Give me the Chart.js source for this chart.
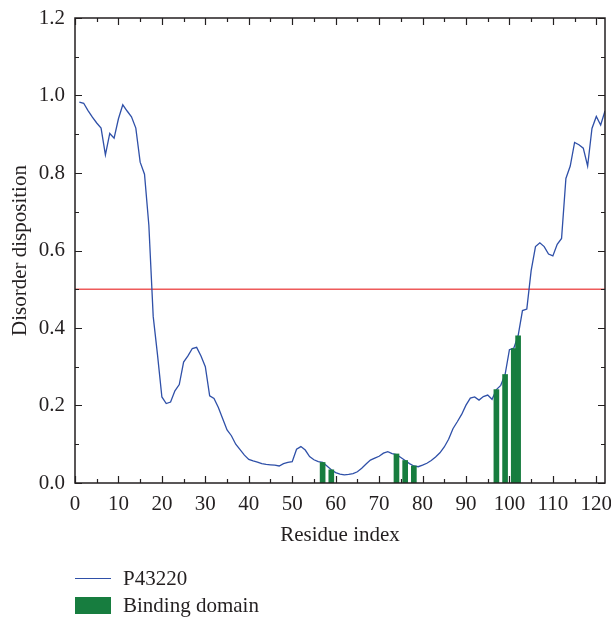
<!DOCTYPE html>
<html><head><meta charset="utf-8">
<script src="https://cdn.jsdelivr.net/npm/chart.js@4/dist/chart.umd.min.js"></script>
<style>
html,body{margin:0;padding:0;background:#fff;}
#wrap{position:relative;width:611px;height:617px;}
#legend{position:absolute;left:75px;top:565px;font-family:"Liberation Serif",serif;font-size:21px;color:#231f20;}
.item{display:flex;align-items:center;height:27px;}
.sw{display:inline-block;width:36px;margin-right:12px;}
</style></head><body>
<div id="wrap"><canvas id="c" width="611" height="617"></canvas>
<div id="legend">
 <div class="item"><span class="sw" style="height:0;border-top:1.5px solid #2f50a8"></span>P43220</div>
 <div class="item"><span class="sw" style="height:17px;background:#177d3f"></span>Binding domain</div>
</div></div>
<script>
// ---- data ----
const startResidue = 1;
const disorder = [
 0.983,0.980,0.961,0.944,0.929,0.916,0.847,0.902,0.890,0.940,
 0.976,0.960,0.945,0.916,0.828,0.797,0.665,0.430,0.330,0.222,
 0.205,0.209,0.238,0.254,0.312,0.328,0.347,0.350,0.328,0.300,
 0.225,0.218,0.195,0.166,0.137,0.122,0.100,0.086,0.072,0.061,
 0.057,0.054,0.050,0.048,0.047,0.046,0.044,0.050,0.053,0.055,
 0.087,0.094,0.085,0.068,0.060,0.055,0.053,0.044,0.034,0.027,
 0.023,0.021,0.022,0.024,0.029,0.038,0.049,0.059,0.064,0.069,
 0.077,0.081,0.076,0.073,0.066,0.058,0.050,0.044,0.042,0.046,
 0.051,0.058,0.067,0.078,0.093,0.113,0.140,0.158,0.177,0.201,
 0.219,0.222,0.214,0.223,0.227,0.216,0.241,0.252,0.280,0.344,
 0.348,0.380,0.445,0.449,0.548,0.610,0.620,0.610,0.591,0.586,
 0.616,0.631,0.786,0.818,0.879,0.873,0.864,0.818,0.915,0.946,
 0.924,0.960
];
const bindingResidues = [57, 59, 74, 76, 78, 97, 99, 101, 102];
const bindingValues   = [0.053, 0.034, 0.075, 0.058, 0.044, 0.241, 0.280, 0.347, 0.380];
const threshold = 0.5;
const xTickLabels = [0,10,20,30,40,50,60,70,80,90,100,110,120];
const yTickLabels = ['0.0','0.2','0.4','0.6','0.8','1.0','1.2'];

const FONT = '"Liberation Serif", "Times New Roman", serif';
const INK = '#231f20';

const lineData = disorder.map((v, i) => ({x: startResidue + i, y: v}));
const barData = bindingResidues.map((r, i) => ({x: r, y: bindingValues[i]}));

const framePlugin = {
  id: 'frame',
  beforeDatasetsDraw(chart) {
    const {ctx, chartArea: a, scales: {y}} = chart;
    const py = y.getPixelForValue(threshold);
    ctx.save();
    ctx.strokeStyle = '#ee5a5a';
    ctx.lineWidth = 1.3;
    ctx.beginPath(); ctx.moveTo(a.left, py); ctx.lineTo(a.right, py); ctx.stroke();
    ctx.restore();
  },
  afterDatasetsDraw(chart) {
    const {ctx, chartArea: a, scales: {x, y}} = chart;
    ctx.save();
    ctx.strokeStyle = INK;
    ctx.lineWidth = 1.5;
    ctx.strokeRect(a.left, a.top, a.right - a.left, a.bottom - a.top);
    ctx.lineWidth = 1.2;
    ctx.beginPath();
    for (let v = 0; v <= 120; v += 5) {
      const px = Math.round(x.getPixelForValue(v)) + 0.5;
      const len = v % 10 === 0 ? 7 : 4;
      ctx.moveTo(px, a.bottom); ctx.lineTo(px, a.bottom - len);
      ctx.moveTo(px, a.top); ctx.lineTo(px, a.top + len);
    }
    for (let k = 0; k <= 12; k++) {
      const py = Math.round(y.getPixelForValue(k / 10)) + 0.5;
      const len = k % 2 === 0 ? 7 : 4;
      ctx.moveTo(a.left, py); ctx.lineTo(a.left + len, py);
      ctx.moveTo(a.right, py); ctx.lineTo(a.right - len, py);
    }
    ctx.stroke();
    ctx.restore();
  }
};

new Chart(document.getElementById('c'), {
  type: 'line',
  data: {
    datasets: [
      {type: 'bar', label: 'Binding domain', data: barData, backgroundColor: '#177d3f',
       borderWidth: 0, barThickness: 5, order: 0},
      {type: 'line', label: 'P43220', data: lineData, borderColor: '#2f50a8',
       borderWidth: 1.3, pointRadius: 0, tension: 0, fill: false, order: 1}
    ]
  },
  options: {
    responsive: false, animation: false, devicePixelRatio: 1,
    layout: {padding: {left: 0, top: 18, right: 6, bottom: 64}},
    plugins: {legend: {display: false}, tooltip: {enabled: false}},
    scales: {
      x: {
        type: 'linear', min: 0, max: 122, offset: false,
        grid: {display: false, drawTicks: false}, border: {display: false},
        ticks: {stepSize: 10, includeBounds: false, padding: 9, color: INK, maxRotation: 0,
                font: {family: FONT, size: 21},
                callback: (v) => xTickLabels.includes(v) ? String(v) : ''},
        title: {display: true, text: 'Residue index', color: INK,
                font: {family: FONT, size: 21}, padding: {top: 0, bottom: 5}},
        afterFit: (s) => { s.height = 70; s.paddingLeft = 0; s.paddingRight = 0; }
      },
      y: {
        type: 'linear', min: 0, max: 1.2,
        grid: {display: false, drawTicks: false}, border: {display: false},
        ticks: {stepSize: 0.2, padding: 10, color: INK, font: {family: FONT, size: 21},
                callback: (v) => yTickLabels[Math.round(v / 0.2)]},
        title: {display: true, text: 'Disorder disposition', color: INK,
                font: {family: FONT, size: 21}, padding: {top: 8, bottom: 0}},
        afterFit: (s) => { s.width = 75; s.paddingTop = 0; s.paddingBottom = 0; }
      }
    }
  },
  plugins: [framePlugin]
});
</script>
</body></html>
